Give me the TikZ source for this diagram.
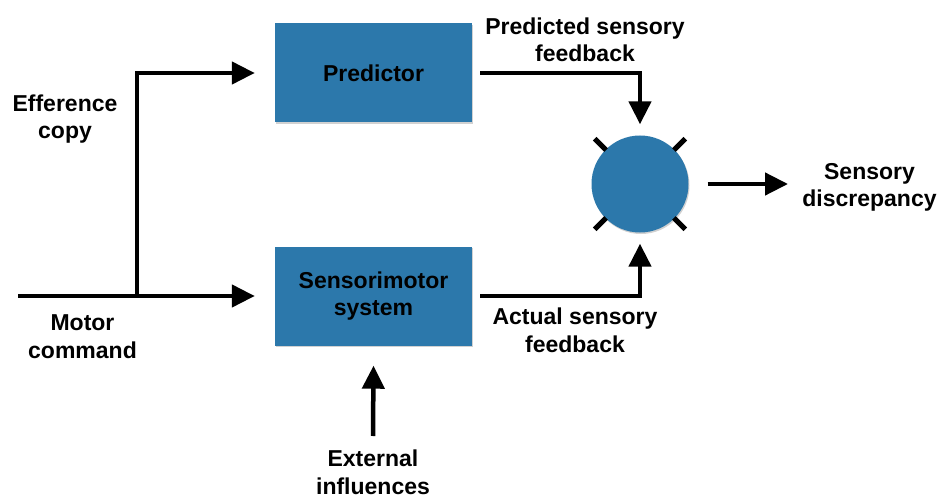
\documentclass[tikz,border=0pt]{standalone}
\usepackage{fontspec}
\setmainfont{Liberation Sans}
\usetikzlibrary{arrows.meta,shadows}
\definecolor{blockblue}{HTML}{2C78AB}
\newcommand\diagfont{\fontsize{23}{27.5}\selectfont\bfseries}
\tikzset{
  softshadow/.style={drop shadow={shadow xshift=1pt, shadow yshift=-1.5pt, opacity=0.3, fill=black!60}},
  block/.style={fill=blockblue, minimum width=197pt, minimum height=99pt, inner sep=0pt,
    align=center, font=\diagfont, softshadow},
  flow/.style={line width=4.5pt, -{Triangle[length=23pt,width=22pt]}},
  lbl/.style={align=center, font=\diagfont, inner sep=0pt, anchor=base},
  tickmark/.style={line width=5pt}
}
\begin{document}
\begin{tikzpicture}[x=1pt,y=-1pt]
\useasboundingbox (0,0) rectangle (940,500);

% blocks
\node[block] (pred) at (373.5,73) {Predictor};
\node[block] (sens) at (373.5,296) {Sensorimotor\\system};
\node[circle, fill=blockblue, minimum size=97pt, inner sep=0pt, softshadow] (cmp) at (640,184) {};

% tick marks around the comparator
\foreach \a in {45,135,225,315}
  \draw[tickmark] (cmp.center) ++(\a:48pt) -- ++(\a:16pt);

% labels (anchored on the baseline of their last line)
\node[lbl] (eff) at (65,139) {Efference\\copy};
\node[lbl] (motor) at (82.5,358) {Motor\\command};
\node[lbl] (predlbl) at (585,62) {Predicted sensory\\feedback};
\node[lbl] (actlbl) at (575,352) {Actual sensory\\feedback};
\node[lbl] (disclbl) at (869.5,207) {Sensory\\discrepancy};
\node[lbl] (extlbl) at (373,494) {External\\influences};

% connector end points
\coordinate (mcstart) at (18,296);
\coordinate (split) at (137,296);
\coordinate (extstart) at (373,436);
\coordinate (discend) at (788,184);

% motor command and efference copy
\draw[flow] (mcstart) -- ([xshift=-20pt]sens.west);
\draw[flow] (split) |- ([xshift=-20pt]pred.west);

% predicted and actual feedback into the comparator
\draw[flow] ([xshift=8pt]pred.east) -| ([yshift=11pt]cmp.north);
\draw[flow] ([xshift=8pt]sens.east) -| ([yshift=-11pt]cmp.south);

% discrepancy output
\draw[flow] ([xshift=19pt]cmp.east) -- (discend);

% external influences
\draw[flow] (extstart) -- ([yshift=-20pt]sens.south);
\end{tikzpicture}
\end{document}
